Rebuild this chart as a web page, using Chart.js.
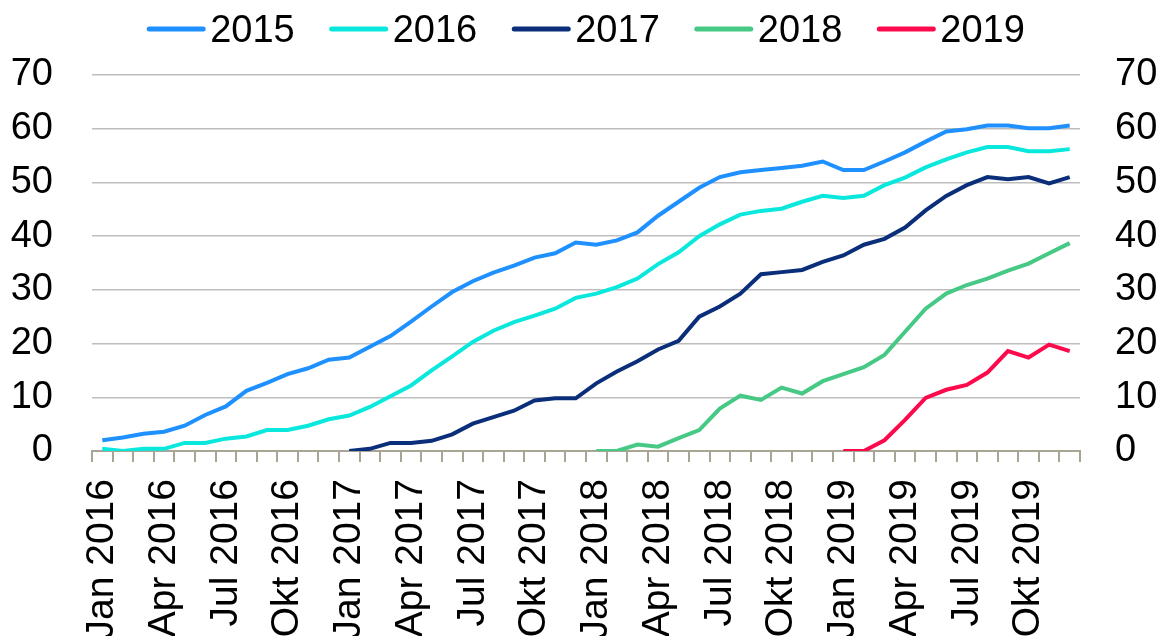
<!DOCTYPE html>
<html>
<head>
<meta charset="utf-8">
<script src="https://cdn.jsdelivr.net/npm/chart.js@4"></script>
<style>
  html, body { margin: 0; padding: 0; background: #fff; }
  #wrap { width: 1160px; height: 636px; overflow: hidden; }
</style>
</head>
<body>
<div id="wrap"><canvas id="chart" width="1160" height="636"></canvas></div>
<script>
// Categories: months Jan 2016 - Dez 2019
const monthNames = ['Jan', 'Feb', 'Mär', 'Apr', 'Mai', 'Jun', 'Jul', 'Aug', 'Sep', 'Okt', 'Nov', 'Dez'];
const years = [2016, 2017, 2018, 2019];
const labels = [];
years.forEach(y => monthNames.forEach(m => labels.push(m + ' ' + y)));

// Series (each starts at its own month index)
const seriesNames = ['2015', '2016', '2017', '2018', '2019'];
const seriesStart = [0, 0, 12, 24, 36];
const values2015 = [2.0, 2.5, 3.2, 3.6, 4.7, 6.7, 8.3, 11.2, 12.7, 14.3, 15.4, 17.0,
  17.4, 19.4, 21.4, 24.1, 26.9, 29.6, 31.6, 33.2, 34.5, 36.0, 36.8, 38.8,
  38.4, 39.2, 40.7, 43.8, 46.4, 49.0, 51.0, 51.9, 52.3, 52.7, 53.1, 53.9,
  52.3, 52.3, 53.9, 55.6, 57.6, 59.5, 59.9, 60.6, 60.6, 60.1, 60.1, 60.6];
const values2016 = [0.4, 0.0, 0.4, 0.4, 1.5, 1.5, 2.3, 2.7, 3.9, 3.9, 4.7, 5.9,
  6.6, 8.2, 10.2, 12.2, 15.0, 17.6, 20.3, 22.4, 24.0, 25.2, 26.5, 28.5,
  29.3, 30.5, 32.1, 34.8, 37.0, 40.0, 42.2, 44.0, 44.7, 45.1, 46.4, 47.5,
  47.1, 47.5, 49.5, 50.9, 52.8, 54.3, 55.6, 56.6, 56.6, 55.8, 55.8, 56.2];
const values2017 = [0.0, 0.4, 1.5, 1.5, 1.9, 3.1, 5.1, 6.3, 7.5, 9.4, 9.8, 9.8,
  12.6, 14.8, 16.7, 18.9, 20.5, 25.0, 26.9, 29.3, 32.9, 33.3, 33.7, 35.2,
  36.4, 38.4, 39.5, 41.6, 44.8, 47.5, 49.5, 51.0, 50.6, 51.0, 49.8, 51.0];
const values2018 = [0.0, 0.0, 1.2, 0.8, 2.4, 3.9, 7.9, 10.3, 9.5, 11.8, 10.7, 13.0,
  14.3, 15.6, 17.9, 22.2, 26.5, 29.3, 30.9, 32.1, 33.6, 34.9, 36.8, 38.7];
const values2019 = [0, 0, 2.0, 5.8, 9.9, 11.4, 12.3, 14.6, 18.6, 17.4, 19.8, 18.6];
const seriesValues = [values2015, values2016, values2017, values2018, values2019];
const seriesColors = ['#1e90ff', '#0ae8de', '#0b2e7a', '#45c985', '#fc0a4b'];

// Y axis ticks
const yMin = 0;
const yMax = 70;
const yStep = 10;

const FONT = '"Liberation Sans", Arial, sans-serif';

function pad(start, vals) {
  return new Array(start).fill(null).concat(vals);
}

const datasets = seriesNames.map((name, i) => ({
  label: name,
  data: pad(seriesStart[i], seriesValues[i]),
  borderColor: seriesColors[i],
  backgroundColor: seriesColors[i],
  borderWidth: 4,
  pointRadius: 0,
  tension: 0,
  yAxisID: 'y'
}));

// Legend drawn as coloured line + label, like the original
const lineLegend = {
  id: 'lineLegend',
  afterDraw(chart) {
    const ctx = chart.ctx;
    const area = chart.chartArea;
    ctx.save();
    ctx.font = '38px ' + FONT;
    const lineLen = 58, gap = 5, space = 35;
    const items = chart.data.datasets.map(ds => ({ ds, w: ctx.measureText(ds.label).width }));
    const total = items.reduce((s, it) => s + lineLen + gap + it.w, 0) + space * (items.length - 1);
    let x = (area.left + area.right) / 2 - total / 2;
    items.forEach(it => {
      ctx.strokeStyle = it.ds.borderColor;
      ctx.lineWidth = 5;
      ctx.lineCap = 'round';
      ctx.beginPath();
      ctx.moveTo(x + 2, 29);
      ctx.lineTo(x + lineLen - 2, 29);
      ctx.stroke();
      ctx.fillStyle = '#000';
      ctx.textBaseline = 'alphabetic';
      ctx.textAlign = 'left';
      ctx.fillText(it.ds.label, x + lineLen + gap, 42);
      x += lineLen + gap + it.w + space;
    });
    ctx.restore();
  }
};

const ctx = document.getElementById('chart').getContext('2d');
const chart = new Chart(ctx, {
  type: 'line',
  data: { labels: labels, datasets: datasets },
  plugins: [lineLegend],
  options: {
    responsive: false,
    animation: false,
    layout: { padding: { top: 75, left: 0, right: 0, bottom: 0 } },
    plugins: {
      legend: { display: false },
      tooltip: { enabled: false }
    },
    scales: {
      x: {
        type: 'category',
        offset: true,
        grid: {
          offset: true,
          drawOnChartArea: false,
          drawTicks: true,
          tickLength: 11,
          color: '#a9a595',
          lineWidth: 2
        },
        border: { display: true, color: '#a9a595', width: 2 },
        ticks: {
          autoSkip: false,
          minRotation: 90,
          maxRotation: 90,
          padding: 17,
          color: '#000',
          font: { family: FONT, size: 39 },
          callback: function(value, index) {
            return index % 3 === 0 ? labels[index] : '';
          }
        },
        afterFit: function(scale) { scale.height = 185; }
      },
      y: {
        position: 'left',
        min: yMin,
        max: yMax,
        grid: { color: '#bebebe', lineWidth: 1.5, drawTicks: false },
        border: { display: false },
        ticks: {
          stepSize: yStep,
          padding: 39,
          color: '#000',
          font: { family: FONT, size: 38 }
        },
        afterFit: function(scale) { scale.width = 92; }
      },
      y2: {
        position: 'right',
        min: yMin,
        max: yMax,
        grid: { display: false, drawTicks: false },
        border: { display: false },
        ticks: {
          stepSize: yStep,
          padding: 35,
          color: '#000',
          font: { family: FONT, size: 38 }
        },
        afterFit: function(scale) { scale.width = 80; }
      }
    }
  }
});
</script>
</body>
</html>
